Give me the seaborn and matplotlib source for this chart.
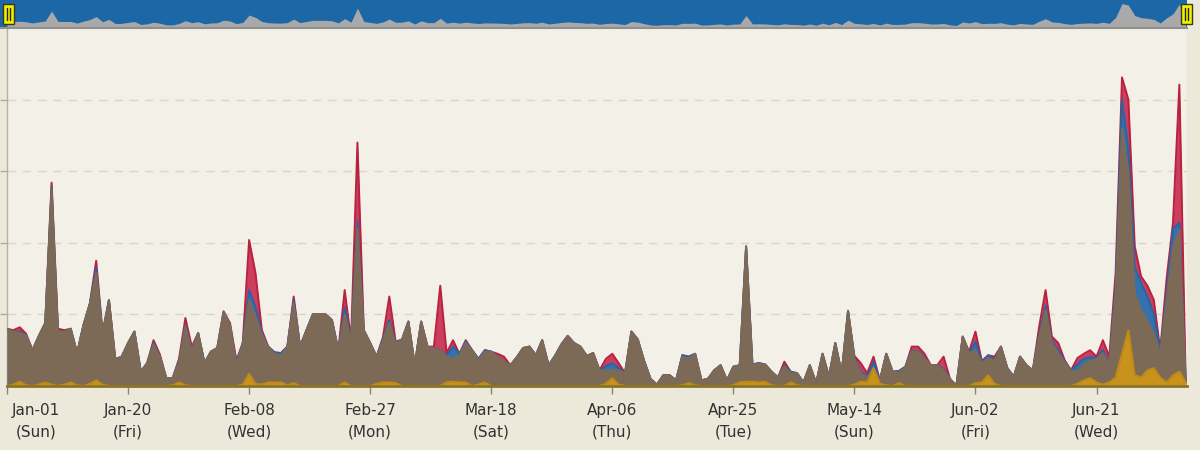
import numpy as np
import pandas as pd
import matplotlib
matplotlib.use("Agg")
import matplotlib.pyplot as plt
import matplotlib.transforms as mtrans
from matplotlib.patches import Rectangle
from matplotlib.lines import Line2D
import seaborn as sns

# daily values, Jan-01 .. Jul-05 (one value per day)
red = [
    0.80, 0.78, 0.82, 0.73, 0.50, 0.70, 0.88, 2.84, 0.80, 0.78,
    0.80, 0.46, 0.85, 1.15, 1.75, 0.74, 1.20, 0.38, 0.41, 0.60,
    0.76, 0.20, 0.32, 0.64, 0.44, 0.11, 0.11, 0.38, 0.95, 0.55,
    0.74, 0.32, 0.48, 0.53, 1.04, 0.88, 0.36, 0.60, 2.04, 1.58,
    0.78, 0.55, 0.47, 0.46, 0.55, 1.25, 0.55, 0.78, 1.00, 1.00,
    1.00, 0.92, 0.50, 1.34, 0.64, 3.40, 0.78, 0.60, 0.41, 0.68,
    1.25, 0.62, 0.65, 0.90, 0.29, 0.90, 0.55, 0.55, 1.40, 0.46,
    0.64, 0.45, 0.64, 0.50, 0.38, 0.50, 0.48, 0.45, 0.41, 0.29,
    0.40, 0.53, 0.55, 0.43, 0.64, 0.29, 0.42, 0.58, 0.70, 0.60,
    0.55, 0.42, 0.46, 0.22, 0.38, 0.45, 0.32, 0.18, 0.76, 0.65,
    0.35, 0.10, 0.02, 0.15, 0.15, 0.08, 0.43, 0.41, 0.45, 0.08,
    0.10, 0.22, 0.29, 0.08, 0.27, 0.29, 1.95, 0.30, 0.32, 0.30,
    0.20, 0.12, 0.34, 0.20, 0.18, 0.05, 0.29, 0.04, 0.45, 0.13,
    0.60, 0.18, 1.05, 0.42, 0.32, 0.18, 0.41, 0.08, 0.45, 0.20,
    0.21, 0.27, 0.55, 0.55, 0.45, 0.29, 0.29, 0.41, 0.10, 0.00,
    0.69, 0.48, 0.76, 0.35, 0.43, 0.41, 0.55, 0.25, 0.13, 0.41,
    0.29, 0.22, 0.83, 1.34, 0.69, 0.60, 0.36, 0.22, 0.39, 0.45,
    0.50, 0.41, 0.64, 0.41, 1.58, 4.31, 4.00, 1.95, 1.53, 1.40,
    1.20, 0.50, 1.50, 2.28, 4.21, 0.05,
]
blue = [
    0.80, 0.76, 0.76, 0.71, 0.50, 0.70, 0.88, 2.78, 0.76, 0.76,
    0.80, 0.46, 0.85, 1.15, 1.65, 0.74, 1.20, 0.36, 0.41, 0.60,
    0.76, 0.20, 0.32, 0.60, 0.41, 0.11, 0.11, 0.35, 0.86, 0.50,
    0.74, 0.32, 0.48, 0.53, 1.04, 0.85, 0.31, 0.60, 1.34, 1.10,
    0.74, 0.55, 0.47, 0.46, 0.55, 1.20, 0.55, 0.78, 1.00, 1.00,
    1.00, 0.92, 0.50, 1.10, 0.64, 2.30, 0.78, 0.60, 0.41, 0.66,
    0.92, 0.60, 0.65, 0.90, 0.29, 0.90, 0.55, 0.53, 0.50, 0.43,
    0.55, 0.45, 0.62, 0.50, 0.38, 0.50, 0.48, 0.41, 0.34, 0.29,
    0.40, 0.53, 0.55, 0.43, 0.64, 0.29, 0.42, 0.58, 0.70, 0.60,
    0.55, 0.42, 0.46, 0.22, 0.28, 0.32, 0.25, 0.18, 0.76, 0.65,
    0.35, 0.10, 0.02, 0.15, 0.15, 0.08, 0.43, 0.41, 0.45, 0.08,
    0.10, 0.22, 0.29, 0.08, 0.27, 0.29, 1.95, 0.30, 0.32, 0.30,
    0.20, 0.12, 0.29, 0.20, 0.18, 0.05, 0.29, 0.04, 0.45, 0.13,
    0.60, 0.18, 1.05, 0.39, 0.20, 0.14, 0.34, 0.08, 0.45, 0.20,
    0.21, 0.27, 0.49, 0.49, 0.39, 0.29, 0.29, 0.24, 0.10, 0.00,
    0.69, 0.46, 0.62, 0.33, 0.43, 0.37, 0.55, 0.25, 0.13, 0.41,
    0.29, 0.22, 0.72, 1.12, 0.63, 0.50, 0.34, 0.22, 0.30, 0.38,
    0.40, 0.39, 0.50, 0.32, 1.40, 4.00, 3.30, 1.66, 1.44, 1.25,
    1.00, 0.48, 1.30, 2.20, 2.28, 0.05,
]
brown = [
    0.80, 0.76, 0.74, 0.71, 0.50, 0.70, 0.88, 2.75, 0.75, 0.76,
    0.80, 0.46, 0.85, 1.15, 1.58, 0.74, 1.20, 0.36, 0.41, 0.60,
    0.76, 0.20, 0.32, 0.58, 0.41, 0.11, 0.11, 0.34, 0.83, 0.50,
    0.74, 0.32, 0.48, 0.53, 1.04, 0.85, 0.30, 0.60, 1.20, 0.97,
    0.72, 0.55, 0.45, 0.43, 0.55, 1.16, 0.55, 0.78, 1.00, 1.00,
    1.00, 0.92, 0.50, 1.00, 0.64, 2.20, 0.78, 0.60, 0.41, 0.64,
    0.88, 0.60, 0.65, 0.90, 0.29, 0.90, 0.55, 0.53, 0.50, 0.41,
    0.38, 0.43, 0.60, 0.50, 0.36, 0.48, 0.48, 0.41, 0.34, 0.29,
    0.40, 0.53, 0.55, 0.43, 0.64, 0.29, 0.42, 0.58, 0.70, 0.60,
    0.55, 0.42, 0.46, 0.22, 0.22, 0.22, 0.22, 0.18, 0.76, 0.65,
    0.35, 0.10, 0.02, 0.15, 0.15, 0.08, 0.41, 0.38, 0.45, 0.08,
    0.10, 0.22, 0.29, 0.08, 0.27, 0.29, 1.95, 0.29, 0.31, 0.30,
    0.20, 0.12, 0.27, 0.18, 0.18, 0.05, 0.29, 0.04, 0.45, 0.13,
    0.60, 0.18, 1.05, 0.38, 0.18, 0.12, 0.25, 0.08, 0.45, 0.20,
    0.19, 0.27, 0.48, 0.48, 0.38, 0.29, 0.29, 0.22, 0.10, 0.00,
    0.69, 0.46, 0.50, 0.32, 0.39, 0.35, 0.55, 0.25, 0.13, 0.41,
    0.29, 0.22, 0.69, 1.06, 0.60, 0.46, 0.33, 0.22, 0.20, 0.30,
    0.35, 0.38, 0.46, 0.30, 1.30, 3.60, 3.00, 1.30, 1.06, 0.90,
    0.74, 0.46, 1.20, 1.95, 2.18, 0.05,
]
gold = [
    0.00, 0.02, 0.06, 0.01, 0.00, 0.02, 0.05, 0.02, 0.00, 0.02,
    0.05, 0.01, 0.00, 0.03, 0.08, 0.02, 0.00, 0.00, 0.00, 0.00,
    0.00, 0.00, 0.00, 0.00, 0.00, 0.00, 0.01, 0.05, 0.01, 0.00,
    0.00, 0.00, 0.00, 0.00, 0.00, 0.00, 0.00, 0.02, 0.17, 0.03,
    0.02, 0.05, 0.05, 0.05, 0.01, 0.04, 0.00, 0.00, 0.00, 0.00,
    0.00, 0.00, 0.00, 0.05, 0.00, 0.00, 0.00, 0.00, 0.03, 0.05,
    0.05, 0.04, 0.00, 0.00, 0.00, 0.00, 0.00, 0.00, 0.00, 0.05,
    0.06, 0.05, 0.05, 0.00, 0.02, 0.05, 0.00, 0.00, 0.00, 0.00,
    0.00, 0.00, 0.00, 0.00, 0.00, 0.00, 0.00, 0.00, 0.00, 0.00,
    0.00, 0.00, 0.00, 0.00, 0.03, 0.11, 0.02, 0.00, 0.00, 0.00,
    0.00, 0.00, 0.00, 0.00, 0.00, 0.00, 0.01, 0.04, 0.01, 0.00,
    0.00, 0.00, 0.00, 0.00, 0.01, 0.05, 0.06, 0.06, 0.05, 0.06,
    0.01, 0.00, 0.00, 0.05, 0.01, 0.00, 0.00, 0.00, 0.00, 0.00,
    0.00, 0.00, 0.00, 0.02, 0.06, 0.05, 0.25, 0.03, 0.01, 0.00,
    0.04, 0.00, 0.00, 0.00, 0.00, 0.00, 0.00, 0.00, 0.00, 0.00,
    0.00, 0.00, 0.04, 0.05, 0.15, 0.03, 0.00, 0.00, 0.00, 0.00,
    0.00, 0.00, 0.00, 0.00, 0.00, 0.00, 0.00, 0.00, 0.03, 0.08,
    0.11, 0.05, 0.02, 0.05, 0.12, 0.45, 0.78, 0.15, 0.12, 0.22,
    0.25, 0.12, 0.05, 0.15, 0.20, 0.05,
]

tick_labels = ["Jan-01\n(Sun)", "Jan-20\n(Fri)", "Feb-08\n(Wed)", "Feb-27\n(Mon)",
               "Mar-18\n(Sat)", "Apr-06\n(Thu)", "Apr-25\n(Tue)", "May-14\n(Sun)",
               "Jun-02\n(Fri)", "Jun-21\n(Wed)"]

dates = pd.date_range("2017-01-01", periods=len(brown), freq="D")
tick_dates = pd.date_range("2017-01-01", periods=len(tick_labels), freq="19D")

sns.set_theme(style="white")
plt.rcParams["font.family"] = ["DejaVu Sans"]

W, H = 1200, 450
fig = plt.figure(figsize=(12, 4.5), dpi=100, facecolor="#ece8da")

# main plot
ax = fig.add_axes([7 / W, 64 / H, 1180 / W, 358 / H])
ax.set_facecolor("#f3f0e7")

layers = [
    (red, "#cc3d5e", "#b8223f"),
    (blue, "#3471ad", "#2a64a3"),
    (brown, "#7c6a57", "#7c6a57"),
    (gold, "#c8921d", "#c08a16"),
]
for i, (vals, fc, ec) in enumerate(layers):
    ax.fill_between(dates, 0, vals, color=fc, lw=0, zorder=2 + i)
    sns.lineplot(x=dates, y=vals, ax=ax, color=ec, lw=1.4, zorder=2 + i)

x0 = dates[0]
ax.set_xlim(x0, x0 + pd.Timedelta(days=185.2))
ax.set_ylim(0, 5)
ax.set_yticks([1, 2, 3, 4])
ax.set_yticklabels([])
ax.yaxis.grid(True, ls=(0, (6, 5)), color="#d9d5ca", lw=1)
ax.set_axisbelow(True)
ax.tick_params(axis="y", left=True, length=5, color="#b0aca0", width=1)
ax.set_xlabel("")
ax.set_ylabel("")

ax.set_xticks(tick_dates)
ax.set_xticklabels(tick_labels)
ax.tick_params(axis="x", bottom=True, length=6, color="#888478", width=1,
               labelsize=11, labelcolor="#333333", pad=6)
for lbl in ax.get_xticklabels():
    lbl.set_linespacing(1.55)
first = ax.get_xticklabels()[0]
first.set_horizontalalignment("left")
first.set_multialignment("center")
first.set_transform(first.get_transform() +
                    mtrans.ScaledTranslation(5 / 100, 0, fig.dpi_scale_trans))

for side in ["top", "right"]:
    ax.spines[side].set_visible(False)
ax.spines["left"].set_color("#b5b1a5")
ax.spines["left"].set_linewidth(1)
ax.spines["bottom"].set_color("#8a7424")
ax.spines["bottom"].set_linewidth(2)
ax.spines["bottom"].set_zorder(10)

# navigator strip
nav = fig.add_axes([0, 422 / H, 1187 / W, 28 / H])
nav.set_facecolor("#1c67a5")
nav.fill_between(dates, -1, red, color="#a9a9a9", lw=0)
nav.set_xlim(x0 - pd.Timedelta(days=7 / 6.37), x0 + pd.Timedelta(days=185.2))
nav.set_ylim(-0.5, 5.0)
nav.set_xticks([])
nav.set_yticks([])
for side in ["top", "left", "right"]:
    nav.spines[side].set_visible(False)
nav.spines["bottom"].set_color("#8f8f8f")
nav.spines["bottom"].set_linewidth(1.5)

# navigator handles
for hx in (3, 1181):
    fig.add_artist(Rectangle((hx / W, 1 - 24 / H), 11 / W, 20 / H,
                             transform=fig.transFigure, facecolor="#f2ef00",
                             edgecolor="#3a3a1a", lw=1, zorder=20))
    for bx in (hx + 4, hx + 7):
        fig.add_artist(Line2D([bx / W, bx / W], [1 - 20 / H, 1 - 8 / H],
                              transform=fig.transFigure, color="#222222",
                              lw=1, zorder=21))

fig.savefig("out.png", dpi=100, facecolor=fig.get_facecolor())
